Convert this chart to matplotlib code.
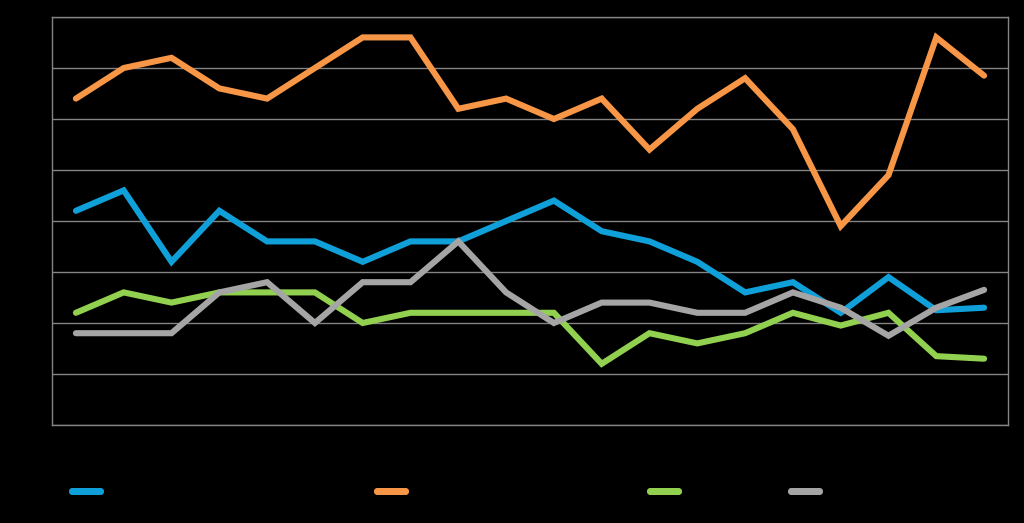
import numpy as np
import matplotlib.pyplot as plt
from matplotlib.lines import Line2D

plt.rcParams['lines.solid_capstyle'] = 'round'
plt.rcParams['lines.solid_joinstyle'] = 'miter'

# data (20 periods, y scale 0..8)
periods = list(range(1, 21))
blue_vals = [4.2, 4.6, 3.2, 4.2, 3.6, 3.6, 3.2, 3.6, 3.6, 4.0,
             4.4, 3.8, 3.6, 3.2, 2.6, 2.8, 2.2, 2.9, 2.25, 2.3]
orange_vals = [6.4, 7.0, 7.2, 6.6, 6.4, 7.0, 7.6, 7.6, 6.2, 6.4,
               6.0, 6.4, 5.4, 6.2, 6.8, 5.8, 3.9, 4.9, 7.6, 6.85]
green_vals = [2.2, 2.6, 2.4, 2.6, 2.6, 2.6, 2.0, 2.2, 2.2, 2.2,
              2.2, 1.2, 1.8, 1.6, 1.8, 2.2, 1.95, 2.2, 1.35, 1.3]
gray_vals = [1.8, 1.8, 1.8, 2.6, 2.8, 2.0, 2.8, 2.8, 3.6, 2.6,
             2.0, 2.4, 2.4, 2.2, 2.2, 2.6, 2.3, 1.75, 2.3, 2.65]

series = [
    ("Series 1", blue_vals, "#0FA0D9"),
    ("Series 2", orange_vals, "#F79646"),
    ("Series 3", green_vals, "#92D050"),
    ("Series 4", gray_vals, "#A5A5A5"),
]
# legend handle positions (figure fraction, left edge of the line)
legend_x = [72 / 1024, 377 / 1024, 650 / 1024, 791 / 1024]

fig = plt.figure(figsize=(10.24, 5.23), dpi=100, facecolor='black')
ax = fig.add_axes([52 / 1024, 98 / 523, 956 / 1024, 408 / 523])
ax.set_facecolor('black')

x = np.arange(len(periods))
for name, vals, col in series:
    ax.plot(x, vals, color=col, lw=4.4, label=name, zorder=3)

ax.set_xlim(-0.5, len(periods) - 0.5)
ax.set_ylim(0, 8)
ax.set_yticks(np.arange(0, 9, 1))
ax.set_xticks(x)
ax.set_xticklabels([str(p) for p in periods])
ax.tick_params(colors='black', length=0, labelcolor='black')
ax.grid(axis='y', color='#848484', lw=1, zorder=0)
for sp in ax.spines.values():
    sp.set_color('#848484')
    sp.set_linewidth(1)

# legend: one entry per series, spaced as in the reference
for (name, vals, col), lx in zip(series, legend_x):
    h = Line2D([], [], color=col, lw=5)
    leg = fig.legend([h], [name], loc='center left', bbox_to_anchor=(lx, 31 / 523),
                     frameon=False, borderpad=0, borderaxespad=0,
                     handlelength=2.0, fontsize=10, labelcolor='black')
    fig.add_artist(leg)

fig.savefig('out.png', dpi=100, facecolor='black')
